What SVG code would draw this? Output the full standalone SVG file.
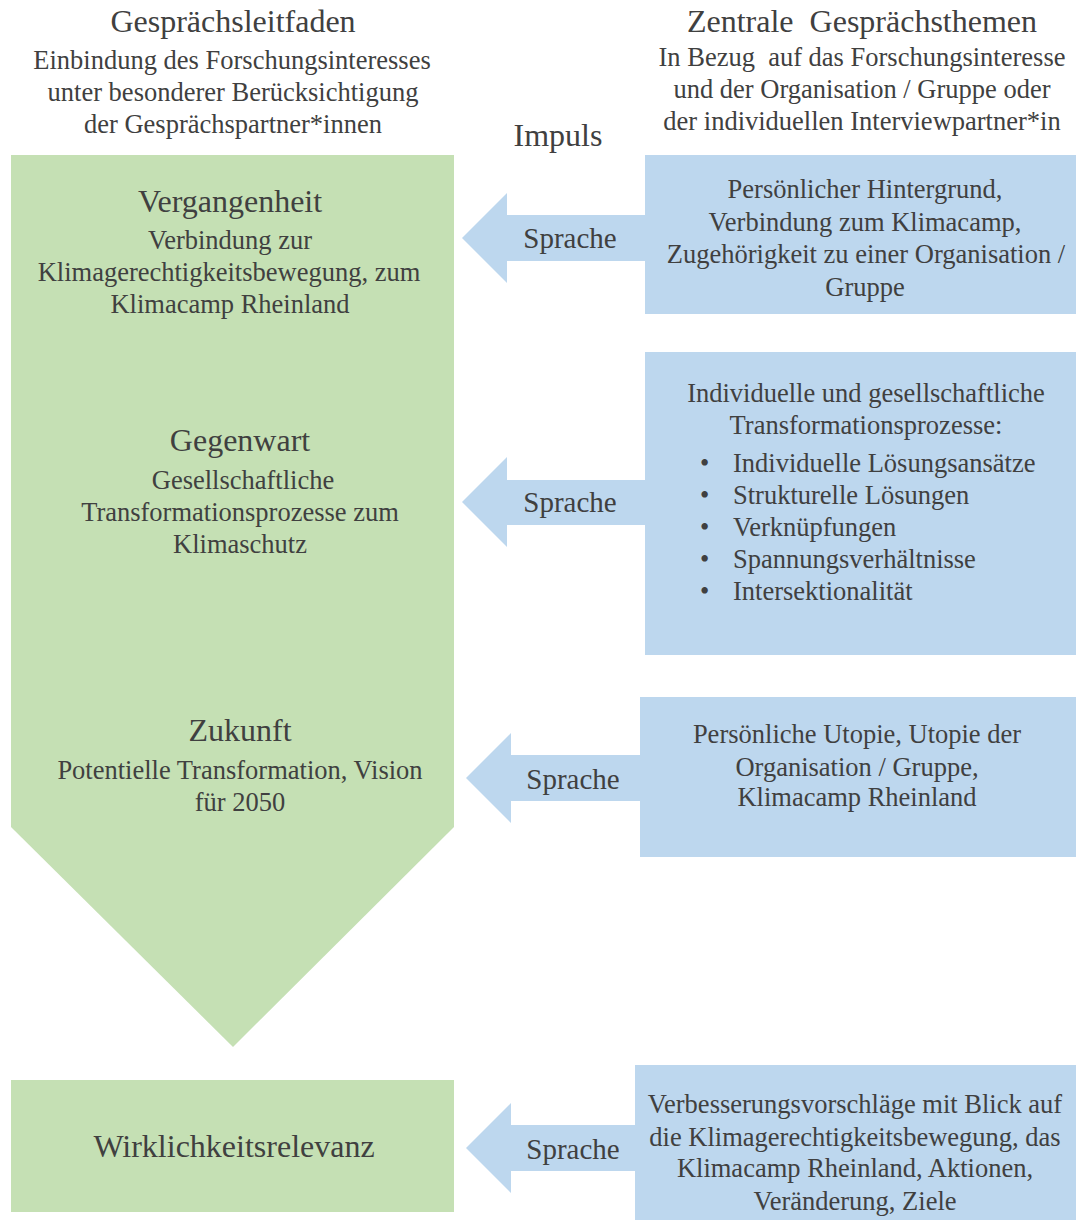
<svg xmlns="http://www.w3.org/2000/svg" width="1076" height="1220" viewBox="0 0 1076 1220" font-family="'Liberation Serif','Times New Roman','DejaVu Serif',serif">
<style>
text{font-family:"Liberation Serif","Times New Roman","DejaVu Serif",serif;fill:#404040;text-anchor:middle}
.h{font-size:32px}
.s{font-size:26.5px}
.sp{font-size:29px}
.g{fill:#C5E0B4}
.b{fill:#BDD7EE}
.l{text-anchor:start}
</style>
<rect width="1076" height="1220" fill="#fff"/>
<g id="header-left">
<text class="h" x="233" y="32">Gesprächsleitfaden</text>
<text class="s" x="232" y="69">Einbindung des Forschungsinteresses</text>
<text class="s" x="233" y="101">unter besonderer Berücksichtigung</text>
<text class="s" x="233" y="133">der Gesprächspartner*innen</text>
</g>
<g id="header-right">
<text class="h" x="862" y="32">Zentrale&#160; Gesprächsthemen</text>
<text class="s" x="862" y="66">In Bezug&#160; auf das Forschungsinteresse</text>
<text class="s" x="862" y="98">und der Organisation / Gruppe oder</text>
<text class="s" x="862" y="130">der individuellen Interviewpartner*in</text>
</g>
<g id="impuls"><text class="h" x="558" y="146">Impuls</text></g>
<g id="timeline">
<polygon class="g" points="11,155 454,155 454,827 233,1047 11,827"/>
<text class="h" x="230" y="212">Vergangenheit</text>
<text class="s" x="230" y="249">Verbindung zur</text>
<text class="s" x="229" y="281">Klimagerechtigkeitsbewegung, zum</text>
<text class="s" x="230" y="313">Klimacamp Rheinland</text>
<text class="h" x="240" y="451">Gegenwart</text>
<text class="s" x="243" y="489">Gesellschaftliche</text>
<text class="s" x="240" y="521">Transformationsprozesse zum</text>
<text class="s" x="240" y="553">Klimaschutz</text>
<text class="h" x="240" y="741">Zukunft</text>
<text class="s" x="240" y="779">Potentielle Transformation, Vision</text>
<text class="s" x="240" y="811">für 2050</text>
</g>
<g id="wirklichkeitsrelevanz">
<rect class="g" x="11" y="1080" width="443" height="132"/>
<text class="h" x="234" y="1157">Wirklichkeitsrelevanz</text>
</g>
<g id="connectors">
<polygon class="b" points="462,238 507,193 507,215 650,215 650,261 507,261 507,283"/>
<polygon class="b" points="462,502 507,457 507,480 650,480 650,525 507,525 507,547"/>
<polygon class="b" points="466,778 511,733 511,755 645,755 645,801 511,801 511,823"/>
<polygon class="b" points="466,1148 511,1103 511,1125 640,1125 640,1171 511,1171 511,1193"/>
<text class="sp" x="570" y="248">Sprache</text>
<text class="sp" x="570" y="512">Sprache</text>
<text class="sp" x="573" y="789">Sprache</text>
<text class="sp" x="573" y="1159">Sprache</text>
</g>
<g id="topic-past">
<rect class="b" x="645" y="155" width="431" height="159"/>
<text class="s" x="865" y="198">Persönlicher Hintergrund,</text>
<text class="s" x="865" y="231">Verbindung zum Klimacamp,</text>
<text class="s" x="866" y="263">Zugehörigkeit zu einer Organisation /</text>
<text class="s" x="865" y="296">Gruppe</text>
</g>
<g id="topic-present">
<rect class="b" x="645" y="352" width="431" height="303"/>
<text class="s" x="866" y="402">Individuelle und gesellschaftliche</text>
<text class="s" x="866" y="434">Transformationsprozesse:</text>
<text class="s l" x="700" y="472">•</text><text class="s l" x="733" y="472">Individuelle Lösungsansätze</text>
<text class="s l" x="700" y="504">•</text><text class="s l" x="733" y="504">Strukturelle Lösungen</text>
<text class="s l" x="700" y="536">•</text><text class="s l" x="733" y="536">Verknüpfungen</text>
<text class="s l" x="700" y="568">•</text><text class="s l" x="733" y="568">Spannungsverhältnisse</text>
<text class="s l" x="700" y="600">•</text><text class="s l" x="733" y="600">Intersektionalität</text>
</g>
<g id="topic-future">
<rect class="b" x="640" y="697" width="436" height="160"/>
<text class="s" x="857" y="743">Persönliche Utopie, Utopie der</text>
<text class="s" x="857" y="776">Organisation / Gruppe,</text>
<text class="s" x="857" y="806">Klimacamp Rheinland</text>
</g>
<g id="topic-relevance">
<rect class="b" x="635" y="1065" width="441" height="155"/>
<text class="s" x="855" y="1113">Verbesserungsvorschläge mit Blick auf</text>
<text class="s" x="855" y="1146">die Klimagerechtigkeitsbewegung, das</text>
<text class="s" x="855" y="1177">Klimacamp Rheinland, Aktionen,</text>
<text class="s" x="855" y="1210">Veränderung, Ziele</text>
</g>
</svg>
